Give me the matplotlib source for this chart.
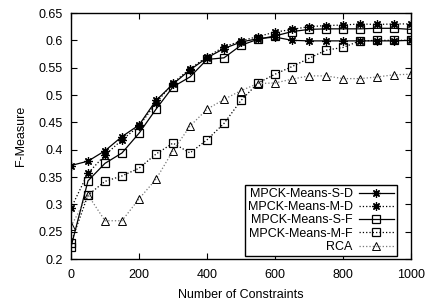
import matplotlib
matplotlib.use("Agg")
import matplotlib.pyplot as plt

plt.rcParams['font.family'] = ['Liberation Sans', 'DejaVu Sans']

x = [0, 50, 100, 150, 200, 250, 300, 350, 400, 450, 500,
     550, 600, 650, 700, 750, 800, 850, 900, 950, 1000]

s_d = [0.371, 0.379, 0.398, 0.424, 0.445, 0.490, 0.520, 0.546, 0.568, 0.585, 0.597,
       0.603, 0.606, 0.600, 0.599, 0.599, 0.599, 0.599, 0.599, 0.599, 0.600]
m_d = [0.293, 0.357, 0.390, 0.418, 0.443, 0.485, 0.522, 0.548, 0.570, 0.588, 0.599,
       0.607, 0.615, 0.620, 0.625, 0.627, 0.628, 0.630, 0.629, 0.630, 0.630]
s_f = [0.222, 0.343, 0.375, 0.394, 0.430, 0.474, 0.515, 0.533, 0.565, 0.568, 0.591,
       0.602, 0.608, 0.616, 0.620, 0.621, 0.621, 0.621, 0.622, 0.622, 0.620]
m_f = [0.230, 0.317, 0.342, 0.352, 0.366, 0.392, 0.412, 0.394, 0.418, 0.448, 0.490,
       0.522, 0.538, 0.552, 0.567, 0.582, 0.587, 0.599, 0.600, 0.600, 0.600]
rca = [0.260, 0.317, 0.270, 0.270, 0.310, 0.346, 0.398, 0.443, 0.474, 0.492, 0.508,
       0.521, 0.522, 0.529, 0.535, 0.535, 0.530, 0.530, 0.533, 0.537, 0.538]

labels = ["MPCK-Means-S-D", "MPCK-Means-M-D", "MPCK-Means-S-F", "MPCK-Means-M-F", "RCA"]
xticks = [0, 200, 400, 600, 800, 1000]
yticks = [0.2, 0.25, 0.3, 0.35, 0.4, 0.45, 0.5, 0.55, 0.6, 0.65]
yticklabels = ["0.2", "0.25", "0.3", "0.35", "0.4", "0.45", "0.5", "0.55", "0.6", "0.65"]

fig = plt.figure(figsize=(4.27, 3.02), dpi=100)
ax = fig.add_axes([71/427, 1-259/302, 340/427, 246/302])

star = (8, 2, 0)
ms = 6
ax.plot(x, s_d, color='black', ls='-', lw=0.9, marker=star, ms=ms, mew=0.9, label=labels[0])
ax.plot(x, m_d, color='black', ls=':', lw=0.9, marker=star, ms=ms, mew=0.9, label=labels[1])
ax.plot(x, s_f, color='black', ls='-', lw=0.9, marker='s', ms=ms, mfc='none', mew=0.9, label=labels[2])
ax.plot(x, m_f, color='black', ls=':', lw=0.9, marker='s', ms=ms, mfc='none', mew=0.9, label=labels[3])
ax.plot(x, rca, color='#777777', ls=':', lw=0.9, marker='^', ms=ms, mfc='none', mec='black', mew=0.7, label=labels[4])

ax.set_xlim(0, 1000)
ax.set_ylim(0.2, 0.65)
ax.set_xticks(xticks)
ax.set_xticklabels([str(t) for t in xticks])
ax.set_yticks(yticks)
ax.set_yticklabels(yticklabels)
ax.tick_params(direction='in', top=True, right=True, labelsize=9, length=4, width=0.8)
ax.tick_params(axis='y', pad=6)
ax.tick_params(axis='x', pad=7)
for sp in ax.spines.values():
    sp.set_linewidth(1.0)

ax.set_xlabel("Number of Constraints", fontsize=9, labelpad=6)
ax.set_ylabel("F-Measure", fontsize=9, labelpad=8)

leg = ax.legend(loc='lower right', bbox_to_anchor=(0.959, 0.012), markerfirst=False,
                fontsize=9, frameon=True, fancybox=False, edgecolor='black',
                framealpha=1, borderpad=0.25, labelspacing=0.1, handlelength=2.8,
                handletextpad=0.5, borderaxespad=0.0)
leg.get_frame().set_linewidth(1.0)

fig.savefig("out.png", dpi=100)
